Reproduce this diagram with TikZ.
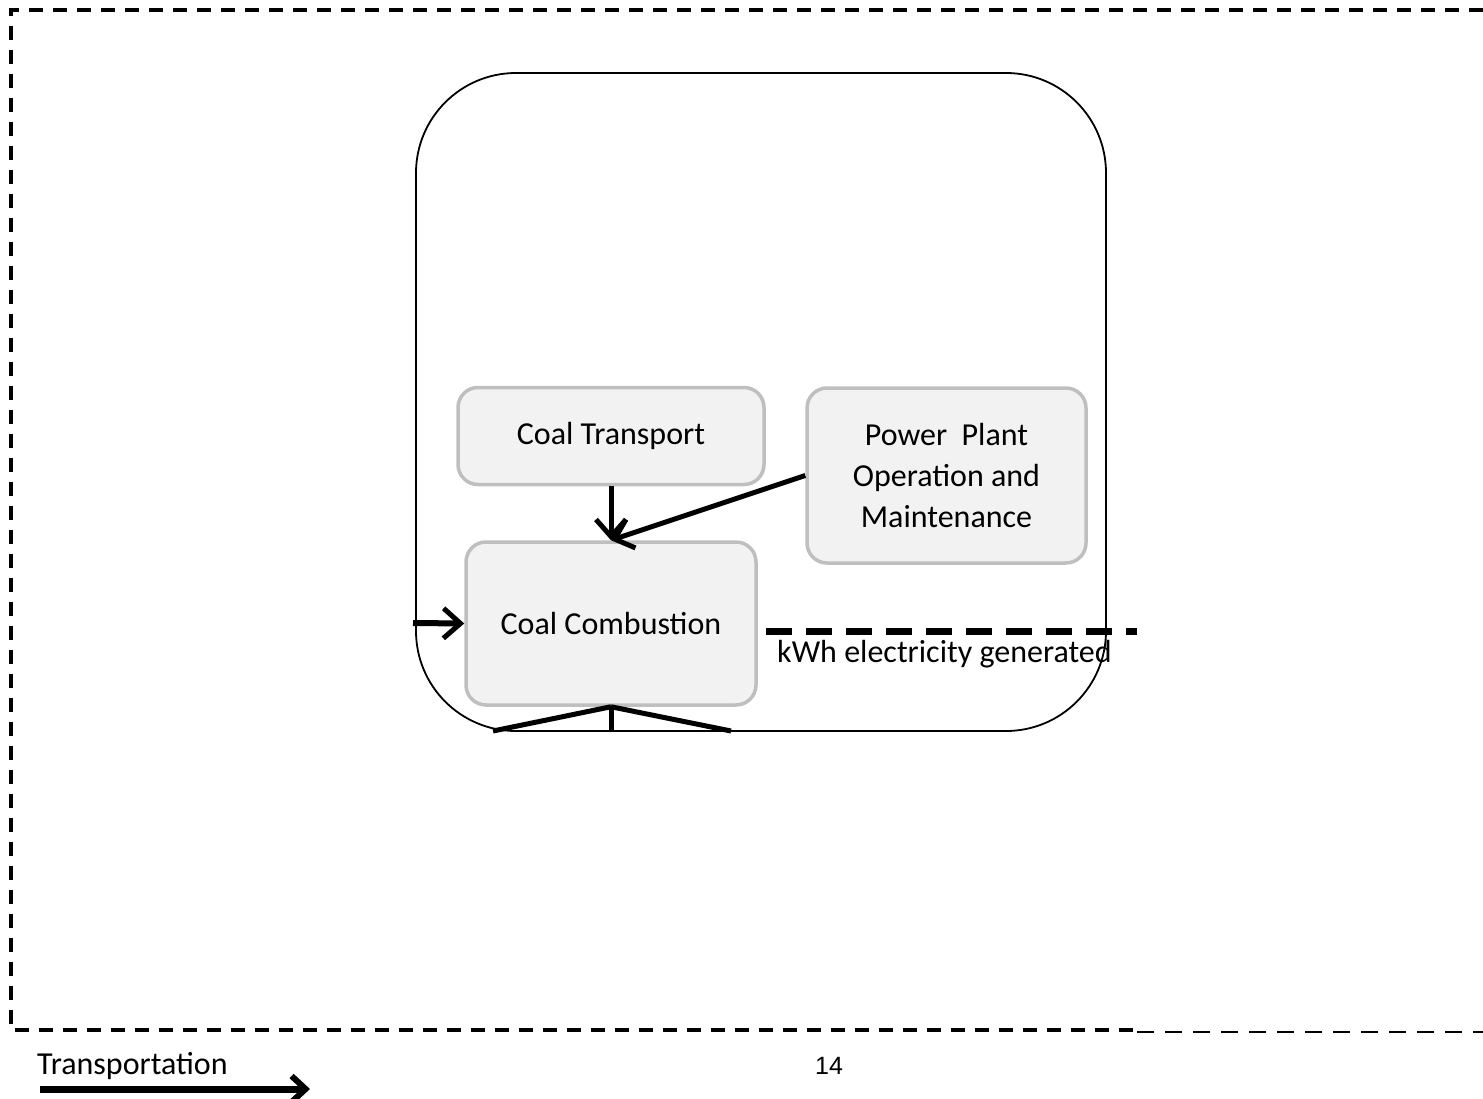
\documentclass[tikz,border=0pt]{standalone}
\usepackage{fontspec}
\setmainfont{Carlito}
\newfontfamily\numfont{Liberation Sans}
\usetikzlibrary{arrows.meta}
\definecolor{boxfill}{HTML}{F2F2F2}
\definecolor{boxline}{HTML}{BFBFBF}
\tikzset{
  x=1pt, y=-1pt,
  stagebox/.style={draw=boxline, fill=boxfill, line width=3.5pt, rounded corners=20pt,
    align=center, font=\fontsize{32}{41}\selectfont, inner sep=0pt},
  flow/.style={line width=5pt, -{Straight Barb[length=17pt, width=30pt, line width=5pt]}},
  fanline/.style={line width=5pt},
  framedash/.style={line width=4pt, dash pattern=on 14pt off 10pt},
  framethin/.style={line width=2pt, dash pattern=on 17pt off 11pt},
  outputdash/.style={line width=7pt, dash pattern=on 26pt off 14pt},
  label/.style={font=\fontsize{32}{36}\selectfont, inner sep=0pt},
}
\begin{document}
\begin{tikzpicture}
\useasboundingbox (0,0) rectangle (1483,1099);

% system boundary
\node[draw, line width=1.8pt, rounded corners=100pt, minimum width=690pt, minimum height=658pt,
  inner sep=0pt] (sys) at (761,402) {};

% process stages
\node[stagebox, minimum width=306pt, minimum height=97pt] (ct) at (611,436) {Coal Transport};
\node[stagebox, minimum width=279pt, minimum height=175pt] (pp) at (946.5,475.5)
  {Power\ \ Plant\\Operation and\\Maintenance};
\node[stagebox, minimum width=290pt, minimum height=163pt] (cc) at (611,623.5) {Coal Combustion};

% inputs to combustion
\coordinate (inL) at (413,623);
\draw[flow] (ct.south) -- (cc.north);
\draw[flow] (pp.west) -- (cc.north);
\draw[flow, line width=6pt] (inL) -- (cc.west);

% outputs leaving combustion
\coordinate (fanL) at (493,731);
\coordinate (fanM) at (611,731);
\coordinate (fanR) at (731,731);
\draw[fanline] (cc.south) -- (fanL);
\draw[fanline] (cc.south) -- (fanM);
\draw[fanline] (cc.south) -- (fanR);

% functional unit
\coordinate (fuA) at (766,631);
\coordinate (fuB) at (1137,631);
\draw[outputdash] (fuA) -- (fuB);
\node[label, anchor=west] (fu) at (777,654) {kWh electricity generated};

% outer boundary
\draw[framedash] (1483,10) -- (11,10) -- (11,1030) -- (1137,1030);
\draw[framethin] (1137,1032) -- (1483,1032);

% legend
\node[label, anchor=west] (lg) at (37,1066) {Transportation};
\coordinate (lgA) at (40,1089);
\coordinate (lgB) at (310,1089);
\draw[line width=7pt, -{Straight Barb[length=14pt, width=26pt, line width=6pt]}] (lgA) -- (lgB);

% page number
\node[font=\numfont\fontsize{25}{30}\selectfont, inner sep=0pt] (pg) at (829,1066) {14};
\end{tikzpicture}
\end{document}
